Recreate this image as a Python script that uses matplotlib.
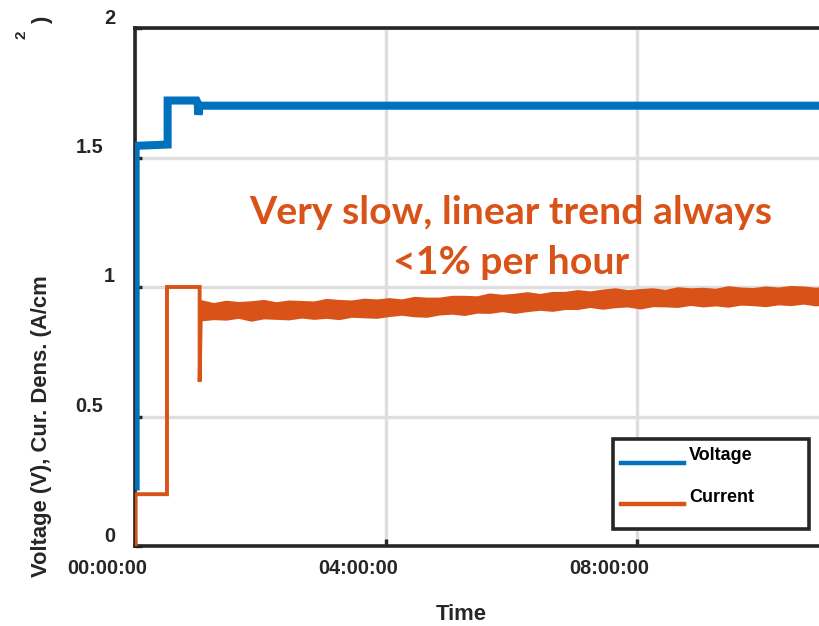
import matplotlib
matplotlib.use('Agg')
import matplotlib.pyplot as plt
from matplotlib.patches import Rectangle
from matplotlib.lines import Line2D
import matplotlib.transforms as mtrans

# voltage trace (hours, V)
volt_t = [0.01, 0.01, 0.52, 0.52, 0.98, 1.00, 1.01, 1.03, 2.5, 5.0, 8.0, 11.2]
volt_v = [0.23, 1.545, 1.55, 1.72, 1.72, 1.71, 1.665, 1.70, 1.70, 1.70, 1.70, 1.70]

# current density start-up steps (hours, A/cm2)
cur_t = [0.0, 0.01, 0.01, 0.51, 0.51, 1.03, 1.03, 1.05]
cur_v = [0.0, 0.0, 0.2, 0.2, 1.0, 1.0, 0.635, 0.91]

# current density noise envelope after start-up
band_t = [1.05, 1.25, 1.45, 1.65, 1.85, 2.05, 2.25, 2.45, 2.65, 2.85,
          3.05, 3.25, 3.45, 3.65, 3.85, 4.05, 4.25, 4.45, 4.65, 4.85,
          5.05, 5.25, 5.45, 5.65, 5.85, 6.05, 6.25, 6.45, 6.65, 6.85,
          7.05, 7.25, 7.45, 7.65, 7.85, 8.05, 8.25, 8.45, 8.65, 8.85,
          9.05, 9.25, 9.45, 9.65, 9.85, 10.05, 10.25, 10.45, 10.65, 10.85, 11.05]
band_hi = [.944, .933, .942, .937, .940, .945, .936, .943, .941, .939,
           .949, .945, .943, .950, .947, .952, .947, .957, .954, .954,
           .961, .961, .959, .970, .965, .969, .975, .968, .976, .976,
           .983, .978, .985, .990, .983, .987, .990, .984, .994, .990,
           .992, .988, .998, .993, .991, .997, .993, .999, .997, .992, .999]
band_lo = [.876, .881, .879, .886, .875, .884, .882, .880, .887, .882,
           .886, .881, .890, .888, .886, .893, .898, .892, .890, .899,
           .902, .897, .906, .905, .912, .905, .912, .917, .913, .920,
           .920, .928, .921, .927, .930, .922, .931, .930, .928, .936,
           .930, .934, .929, .937, .935, .931, .938, .935, .941, .934, .939]

xticks = [0, 4, 8]
xticklabels = ['00:00:00', '04:00:00', '08:00:00']
yticks = [0, 0.5, 1, 1.5, 2]
yticklabels = ['0', '0.5', '1', '1.5', '2']

blue = '#0072BD'
orange = '#D95319'
dark = '#262626'
W, H = 819, 626

fig = plt.figure(figsize=(8.19, 6.26), dpi=100)
ax = fig.add_axes([135 / W, 80 / H, 753 / W, 518 / H])

ax.fill_between(band_t, band_lo, band_hi, color=orange, lw=2.6, zorder=3)
ax.plot(cur_t, cur_v, color=orange, lw=2.8, zorder=3, solid_joinstyle='miter')
ax.plot(volt_t, volt_v, color=blue, lw=5.8, zorder=4, solid_joinstyle='miter')

ax.set_xlim(0, 12)
ax.set_ylim(0, 2)
ax.set_xticks(xticks + [12])
ax.set_yticks(yticks)
ax.set_xticklabels([])
ax.set_yticklabels([])
ax.grid(True, color='#dedede', lw=2.4)
ax.set_axisbelow(True)
ax.tick_params(direction='in', length=5, width=2.4, color=dark)
for s in ax.spines.values():
    s.set_color(dark)
    s.set_linewidth(2.6)

tfont = dict(family='Liberation Sans', weight='bold', color=dark)

# tick labels, offset the way the original figure had them
for v, lab in zip(xticks, xticklabels):
    tr = ax.get_xaxis_transform() + mtrans.ScaledTranslation(-28 / 100, -23 / 100, fig.dpi_scale_trans)
    ax.text(v, 0, lab, transform=tr, ha='center', va='center', fontsize=14.3, clip_on=False, **tfont)
for v, lab in zip(yticks, yticklabels):
    dx = -20 if '.' not in lab else -32
    tr = ax.get_yaxis_transform() + mtrans.ScaledTranslation(dx / 100, 10 / 100, fig.dpi_scale_trans)
    ax.text(0, v, lab, transform=tr, ha='right', va='center', fontsize=14.3, clip_on=False, **tfont)

fig.text(461 / W, 1 - 614 / H, 'Time', ha='center', va='center', fontsize=15.8, **tfont)
fig.text(47 / W, 1 - 577 / H, 'Voltage (V), Cur. Dens. (A/cm', rotation=90,
         ha='left', va='baseline', fontsize=15.8, rotation_mode='anchor', **tfont)
fig.text(22 / W, 1 - 35 / H, '2', rotation=90, ha='center', va='center', fontsize=11, **tfont)
fig.text(42 / W, 1 - 19 / H, ')', rotation=90, ha='center', va='center', fontsize=15.8, **tfont)

# annotation
fig.text(511 / W, 1 - 212 / H, 'Very slow, linear trend always', ha='center', va='center',
         fontsize=28.3, family='Lato', weight='bold', color=orange)
fig.text(511 / W, 1 - 262 / H, '<1% per hour', ha='center', va='center',
         fontsize=28.3, family='Lato', weight='bold', color=orange)

# legend box
fig.add_artist(Rectangle((613 / W, 1 - 529 / H), 196 / W, 90 / H, transform=fig.transFigure,
                         facecolor='white', edgecolor=dark, lw=2.6, zorder=5))
fig.add_artist(Line2D([621 / W, 684 / W], [1 - 463 / H] * 2, transform=fig.transFigure,
                      color=blue, lw=3.2, zorder=6))
fig.add_artist(Line2D([621 / W, 684 / W], [1 - 504 / H] * 2, transform=fig.transFigure,
                      color=orange, lw=3.2, zorder=6))
fig.text(689 / W, 1 - 456 / H, 'Voltage', ha='left', va='center', fontsize=13, zorder=7,
         family='Liberation Sans', weight='bold', color='black')
fig.text(689 / W, 1 - 497 / H, 'Current', ha='left', va='center', fontsize=13, zorder=7,
         family='Liberation Sans', weight='bold', color='black')

plt.savefig('out.png', dpi=100)
